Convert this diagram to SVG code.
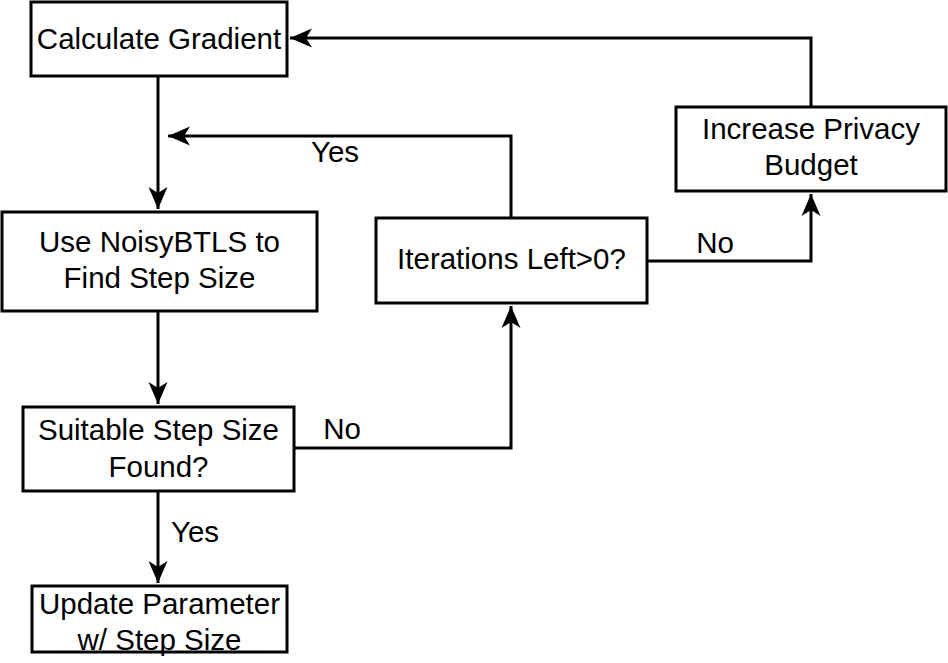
<svg xmlns="http://www.w3.org/2000/svg" width="948" height="663" viewBox="0 0 948 663">
<style>
.box{fill:#fff;stroke:#000;stroke-width:3}
.t{font-family:"Liberation Sans",Arial,sans-serif;font-size:29.5px;fill:#000;text-anchor:middle}
.c{fill:none;stroke:#000;stroke-width:3}
</style>
<defs>
<marker id="arr" markerUnits="userSpaceOnUse" markerWidth="24" markerHeight="22" viewBox="-23 -11 24 22" refX="0" refY="0" orient="auto">
<path d="M0,0 L-22,-9.5 L-16,0 L-22,9.5 Z" fill="#000"/>
</marker>
</defs>
<rect width="948" height="663" fill="#fff"/>
<g id="connectors">
<path class="c" d="M158,76 V209" marker-end="url(#arr)"/>
<path class="c" d="M158,311 V404" marker-end="url(#arr)"/>
<path class="c" d="M158,491 V583" marker-end="url(#arr)"/>
<path class="c" d="M294,448 H511 V306" marker-end="url(#arr)"/>
<path class="c" d="M511,218 V136 H168" marker-end="url(#arr)"/>
<path class="c" d="M647,261 H811 V194" marker-end="url(#arr)"/>
<path class="c" d="M811,107 V38 H290" marker-end="url(#arr)"/>
<text class="t" x="335" y="162">Yes</text>
<text class="t" x="715" y="253">No</text>
<text class="t" x="342" y="439">No</text>
<text class="t" x="195" y="542">Yes</text>
</g>
<g id="calc">
<rect class="box" x="31" y="2" width="256" height="74"/>
<text class="t" x="159" y="49">Calculate Gradient</text>
</g>
<g id="noisy">
<rect class="box" x="2" y="212" width="315" height="99"/>
<text class="t" x="159.5" y="252">Use NoisyBTLS to</text>
<text class="t" x="159.5" y="288">Find Step Size</text>
</g>
<g id="suitable">
<rect class="box" x="23" y="407" width="271" height="84"/>
<text class="t" x="158.5" y="440">Suitable Step Size</text>
<text class="t" x="158.5" y="477">Found?</text>
</g>
<g id="update">
<rect class="box" x="32" y="586" width="255" height="66"/>
<text class="t" x="159.5" y="614">Update Parameter</text>
<text class="t" x="159.5" y="650">w/ Step Size</text>
</g>
<g id="iterations">
<rect class="box" x="376" y="218" width="271" height="85"/>
<text class="t" x="511.5" y="269">Iterations Left&gt;0?</text>
</g>
<g id="privacy">
<rect class="box" x="676" y="107" width="270" height="84"/>
<text class="t" x="811" y="139">Increase Privacy</text>
<text class="t" x="811" y="175">Budget</text>
</g>
</svg>
